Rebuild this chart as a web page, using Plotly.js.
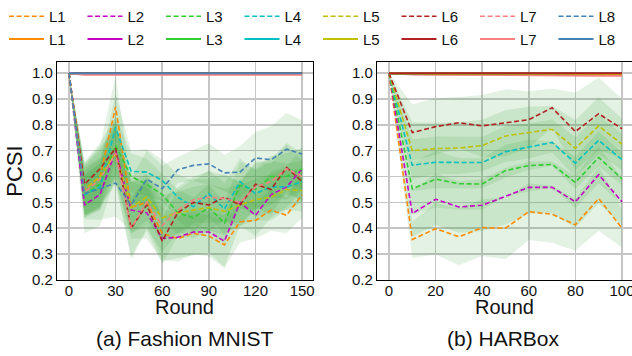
<!DOCTYPE html>
<html><head><meta charset="utf-8">
<script src="https://cdn.plot.ly/plotly-3.0.1.min.js"></script>
<style>html,body{margin:0;padding:0;background:#fff}#chart{width:632px;height:356px}</style>
</head><body><div id="chart"></div>
<script>
// ---------- data ----------
const seriesLabels = ['L1','L2','L3','L4','L5','L6','L7','L8'];
const seriesColors = ['#ff8c00','#c400c4','#32cd32','#00c0c0','#c0c000','#b22222','#f88080','#4682b4'];

const fmRounds = [0,10,20,30,40,50,60,70,80,90,100,110,120,130,140,150];
const hbRounds = [0,10,20,30,40,50,60,70,80,90,100];
const fmTicks = [0,30,60,90,120,150];
const hbTicks = [0,20,40,60,80,100];
const yTicks = [0.2,0.3,0.4,0.5,0.6,0.7,0.8,0.9,1.0];

// Fashion MNIST, dashed series (mean)
const fmDashL1 = [1.0,0.55,0.60,0.87,0.48,0.50,0.38,0.36,0.38,0.37,0.335,0.425,0.43,0.47,0.45,0.53];
const fmDashL2 = [1.0,0.49,0.53,0.70,0.47,0.46,0.36,0.365,0.385,0.385,0.35,0.50,0.45,0.53,0.56,0.63];
const fmDashL3 = [1.0,0.53,0.57,0.72,0.60,0.57,0.53,0.46,0.44,0.48,0.42,0.565,0.55,0.60,0.60,0.63];
const fmDashL4 = [1.0,0.53,0.56,0.79,0.62,0.617,0.585,0.52,0.483,0.534,0.474,0.58,0.534,0.56,0.56,0.58];
const fmDashL5 = [1.0,0.55,0.60,0.69,0.48,0.52,0.44,0.46,0.47,0.48,0.465,0.49,0.51,0.52,0.55,0.545];
const fmDashL6 = [1.0,0.57,0.63,0.71,0.40,0.49,0.35,0.46,0.50,0.49,0.52,0.49,0.57,0.55,0.635,0.58];
const fmDashL7 = [1.0,0.54,0.59,0.69,0.40,0.50,0.41,0.47,0.51,0.52,0.515,0.50,0.56,0.58,0.63,0.60];
const fmDashL8 = [1.0,0.534,0.553,0.575,0.49,0.59,0.553,0.626,0.643,0.649,0.614,0.617,0.672,0.665,0.706,0.687];
// Fashion MNIST, dashed series (std)
const fmStdL1 = [0,0.10,0.12,0.12,0.10,0.09,0.10,0.09,0.08,0.08,0.09,0.08,0.07,0.08,0.07,0.09];
const fmStdL2 = [0,0.11,0.12,0.10,0.11,0.10,0.09,0.08,0.09,0.08,0.10,0.09,0.08,0.09,0.08,0.08];
const fmStdL3 = [0,0.09,0.10,0.11,0.09,0.10,0.08,0.09,0.08,0.09,0.08,0.09,0.08,0.08,0.09,0.08];
const fmStdL4 = [0,0.08,0.09,0.13,0.08,0.09,0.08,0.09,0.10,0.09,0.10,0.09,0.09,0.10,0.09,0.08];
const fmStdL5 = [0,0.10,0.11,0.11,0.10,0.09,0.09,0.08,0.09,0.09,0.09,0.08,0.08,0.09,0.08,0.08];
const fmStdL6 = [0,0.09,0.10,0.12,0.12,0.10,0.09,0.09,0.09,0.10,0.09,0.09,0.09,0.10,0.09,0.08];
const fmStdL7 = [0,0.10,0.11,0.12,0.11,0.10,0.10,0.09,0.09,0.10,0.09,0.08,0.09,0.09,0.10,0.09];
const fmStdL8 = [0,0.10,0.12,0.13,0.10,0.11,0.09,0.05,0.06,0.08,0.07,0.10,0.10,0.13,0.14,0.13];
// Fashion MNIST, solid series
const fmSolidL1 = [1,1,1,1,1,1,1,1,1,1,1,1,1,1,1,1];
const fmSolidL2 = [1,1,1,1,1,1,1,1,1,1,1,1,1,1,1,1];
const fmSolidL3 = [1,1,1,1,1,1,1,1,1,1,1,1,1,1,1,1];
const fmSolidL4 = [1,1,1,1,1,1,1,1,1,1,1,1,1,1,1,1];
const fmSolidL5 = [1,1,1,1,1,1,1,1,1,1,1,1,1,1,1,1];
const fmSolidL6 = [1,1,1,1,1,1,1,1,1,1,1,1,1,1,1,1];
const fmSolidL7 = [1,0.994,0.994,0.994,0.994,0.994,0.994,0.994,0.994,0.994,0.994,0.994,0.994,0.994,0.994,0.994];
const fmSolidL8 = [1,1,1,1,1,1,1,1,1,1,1,1,1,1,1,1];
const fmSolidStdL7 = [0,0.003,0.003,0.003,0.003,0.003,0.003,0.003,0.003,0.003,0.003,0.003,0.003,0.003,0.003,0.003];

// HARBox, dashed series (mean)
const hbDashL1 = [1.0,0.356,0.398,0.367,0.402,0.40,0.464,0.454,0.413,0.515,0.40];
const hbDashL2 = [1.0,0.457,0.512,0.482,0.489,0.524,0.558,0.558,0.502,0.607,0.502];
const hbDashL3 = [1.0,0.552,0.59,0.572,0.571,0.623,0.642,0.647,0.577,0.674,0.591];
const hbDashL4 = [1.0,0.644,0.655,0.654,0.654,0.696,0.715,0.732,0.652,0.74,0.665];
const hbDashL5 = [1.0,0.70,0.708,0.71,0.72,0.757,0.77,0.783,0.709,0.796,0.725];
const hbDashL6 = [1.0,0.77,0.793,0.808,0.796,0.808,0.82,0.866,0.774,0.843,0.785];
const hbDashL7 = [1.0,0.998,0.998,0.998,0.998,0.998,0.998,0.998,0.998,0.998,0.998];
const hbDashL8 = [1.0,0.999,0.999,0.999,0.999,0.999,0.999,0.999,0.999,0.999,0.999];
// HARBox, dashed series (std)
const hbStdL1 = [0,0.07,0.10,0.11,0.11,0.12,0.11,0.11,0.10,0.125,0.075];
const hbStdL2 = [0,0.09,0.10,0.10,0.10,0.11,0.10,0.10,0.10,0.11,0.09];
const hbStdL3 = [0,0.10,0.11,0.10,0.10,0.10,0.10,0.09,0.10,0.10,0.10];
const hbStdL4 = [0,0.10,0.10,0.10,0.10,0.10,0.09,0.09,0.10,0.10,0.10];
const hbStdL5 = [0,0.11,0.10,0.10,0.10,0.10,0.10,0.09,0.11,0.11,0.10];
const hbStdL6 = [0,0.11,0.11,0.10,0.12,0.13,0.11,0.075,0.15,0.14,0.115];
const hbStdL7 = [0,0.002,0.002,0.002,0.002,0.002,0.002,0.002,0.002,0.002,0.002];
const hbStdL8 = [0,0.001,0.001,0.001,0.001,0.001,0.001,0.001,0.001,0.001,0.001];
// HARBox, solid series
const hbSolidL1 = [1,0.998,0.998,0.998,0.998,0.998,0.998,0.998,0.998,0.998,0.997];
const hbSolidL2 = [1,0.998,0.998,0.998,0.998,0.998,0.998,0.998,0.998,0.998,0.997];
const hbSolidL3 = [1,0.998,0.998,0.998,0.998,0.998,0.998,0.998,0.998,0.998,0.997];
const hbSolidL4 = [1,0.998,0.998,0.998,0.998,0.998,0.998,0.998,0.998,0.998,0.997];
const hbSolidL5 = [1,0.998,0.998,0.998,0.998,0.998,0.998,0.998,0.998,0.998,0.997];
const hbSolidL6 = [1,1,1,1,1,1,1,1,1,1,1];
const hbSolidL7 = [1,0.995,0.994,0.994,0.993,0.993,0.992,0.992,0.991,0.990,0.990];
const hbSolidL8 = [1,1,1,1,1,1,1,1,1,1,1];
const hbSolidStdL7 = [0,0.003,0.003,0.003,0.003,0.003,0.004,0.004,0.004,0.004,0.005];

// ---------- traces ----------
const fmDash = [fmDashL1,fmDashL2,fmDashL3,fmDashL4,fmDashL5,fmDashL6,fmDashL7,fmDashL8];
const fmStd = [fmStdL1,fmStdL2,fmStdL3,fmStdL4,fmStdL5,fmStdL6,fmStdL7,fmStdL8];
const fmSolid = [fmSolidL1,fmSolidL2,fmSolidL3,fmSolidL4,fmSolidL5,fmSolidL6,fmSolidL7,fmSolidL8];
const hbDash = [hbDashL1,hbDashL2,hbDashL3,hbDashL4,hbDashL5,hbDashL6,hbDashL7,hbDashL8];
const hbStd = [hbStdL1,hbStdL2,hbStdL3,hbStdL4,hbStdL5,hbStdL6,hbStdL7,hbStdL8];
const hbSolid = [hbSolidL1,hbSolidL2,hbSolidL3,hbSolidL4,hbSolidL5,hbSolidL6,hbSolidL7,hbSolidL8];

const BAND = 'rgba(44,160,44,0.135)';
const DASH = '5px,2.6px';
const traces = [];

function band(xs, mean, std, xa, ya, fill) {
  const up = mean.map((m,i)=>m+std[i]);
  const lo = mean.map((m,i)=>m-std[i]);
  traces.push({x: xs.concat(xs.slice().reverse()), y: up.concat(lo.reverse()),
    type:'scatter', mode:'lines', fill:'toself', fillcolor: fill, line:{width:0},
    xaxis: xa, yaxis: ya, showlegend:false, hoverinfo:'skip'});
}

// bands
for (let i=0;i<8;i++) band(fmRounds, fmDash[i], fmStd[i], 'x','y', BAND);
band(fmRounds, fmSolidL7, fmSolidStdL7, 'x','y', 'rgba(248,128,128,0.25)');
for (let i=0;i<8;i++) band(hbRounds, hbDash[i], hbStd[i], 'x2','y2', BAND);
band(hbRounds, hbSolidL7, hbSolidStdL7, 'x2','y2', 'rgba(248,128,128,0.25)');

// dashed lines
for (let i=0;i<8;i++) {
  traces.push({x: fmRounds, y: fmDash[i], type:'scatter', mode:'lines', name: seriesLabels[i],
    line:{color: seriesColors[i], width:1.6, dash: DASH}, xaxis:'x', yaxis:'y',
    legend:'legend', showlegend:true});
}
for (let i=0;i<8;i++) {
  traces.push({x: hbRounds, y: hbDash[i], type:'scatter', mode:'lines', name: seriesLabels[i],
    line:{color: seriesColors[i], width:1.6, dash: DASH}, xaxis:'x2', yaxis:'y2', showlegend:false});
}
// solid lines
for (let i=0;i<8;i++) {
  traces.push({x: fmRounds, y: fmSolid[i], type:'scatter', mode:'lines', name: seriesLabels[i],
    line:{color: seriesColors[i], width:2}, xaxis:'x', yaxis:'y',
    legend:'legend2', showlegend:true});
}
const hbDrawOrder = [7,6,0,1,2,3,4,5];
for (const i of hbDrawOrder) {
  traces.push({x: hbRounds, y: hbSolid[i], type:'scatter', mode:'lines', name: seriesLabels[i],
    line:{color: seriesColors[i], width:2}, xaxis:'x2', yaxis:'y2', showlegend:false});
}

// ---------- layout ----------
const FONT = '"Liberation Sans", Arial, sans-serif';
const axisCommon = {
  showline:true, mirror:true, linecolor:'#000', linewidth:1.2,
  showgrid:true, gridcolor:'#c6c6c6', gridwidth:1.6, zeroline:false,
  ticks:'', tickfont:{size:15, color:'#111'}, fixedrange:true, ticklabeloverflow:'allow'
};
const yDomain = [0.2163, 0.8343];
const legendCommon = {orientation:'h', x:0.017, xanchor:'left', yanchor:'top', font:{size:15},
  entrywidth:28.5, entrywidthmode:'pixels', itemwidth:35, bgcolor:'rgba(0,0,0,0)', borderwidth:0};
const layout = {
  width:632, height:356, margin:{l:0,r:0,t:0,b:0},
  paper_bgcolor:'#fff', plot_bgcolor:'#fff',
  font:{family: FONT, color:'#111'},
  showlegend:true,
  xaxis: Object.assign({}, axisCommon, {domain:[0.0902,0.4953], range:[-7.7,157], tickvals: fmTicks,
    anchor:'y', ticklabelstandoff:-3}),
  yaxis: Object.assign({}, axisCommon, {domain:yDomain, range:[0.2,1.042], tickvals:yTicks, tickformat:'.1f',
    anchor:'x', title:{text:'PCSI', font:{size:22}, standoff:3}}),
  xaxis2: Object.assign({}, axisCommon, {domain:[0.5965,1.0], range:[-5.15,104.3], tickvals: hbTicks,
    anchor:'y2', ticklabelstandoff:-3}),
  yaxis2: Object.assign({}, axisCommon, {domain:yDomain, range:[0.2,1.042], tickvals:yTicks, tickformat:'.1f',
    anchor:'x2'}),
  legend: Object.assign({}, legendCommon, {y:1.012}),
  legend2: Object.assign({}, legendCommon, {y:0.947}),
  annotations: [
    {text:'Round', xref:'paper', yref:'paper', x:0.2927, y:(356-306)/356, xanchor:'center', yanchor:'middle',
     showarrow:false, font:{size:20}},
    {text:'Round', xref:'paper', yref:'paper', x:0.7985, y:(356-306)/356, xanchor:'center', yanchor:'middle',
     showarrow:false, font:{size:20}},
    {text:'(a) Fashion MNIST', xref:'paper', yref:'paper', x:0.2927, y:(356-338)/356, xanchor:'center', yanchor:'middle',
     showarrow:false, font:{size:21}},
    {text:'(b) HARBox', xref:'paper', yref:'paper', x:0.797, y:(356-338)/356, xanchor:'center', yanchor:'middle',
     showarrow:false, font:{size:21}}
  ]
};
Plotly.newPlot('chart', traces, layout, {displayModeBar:false, staticPlot:true});
</script></body></html>
